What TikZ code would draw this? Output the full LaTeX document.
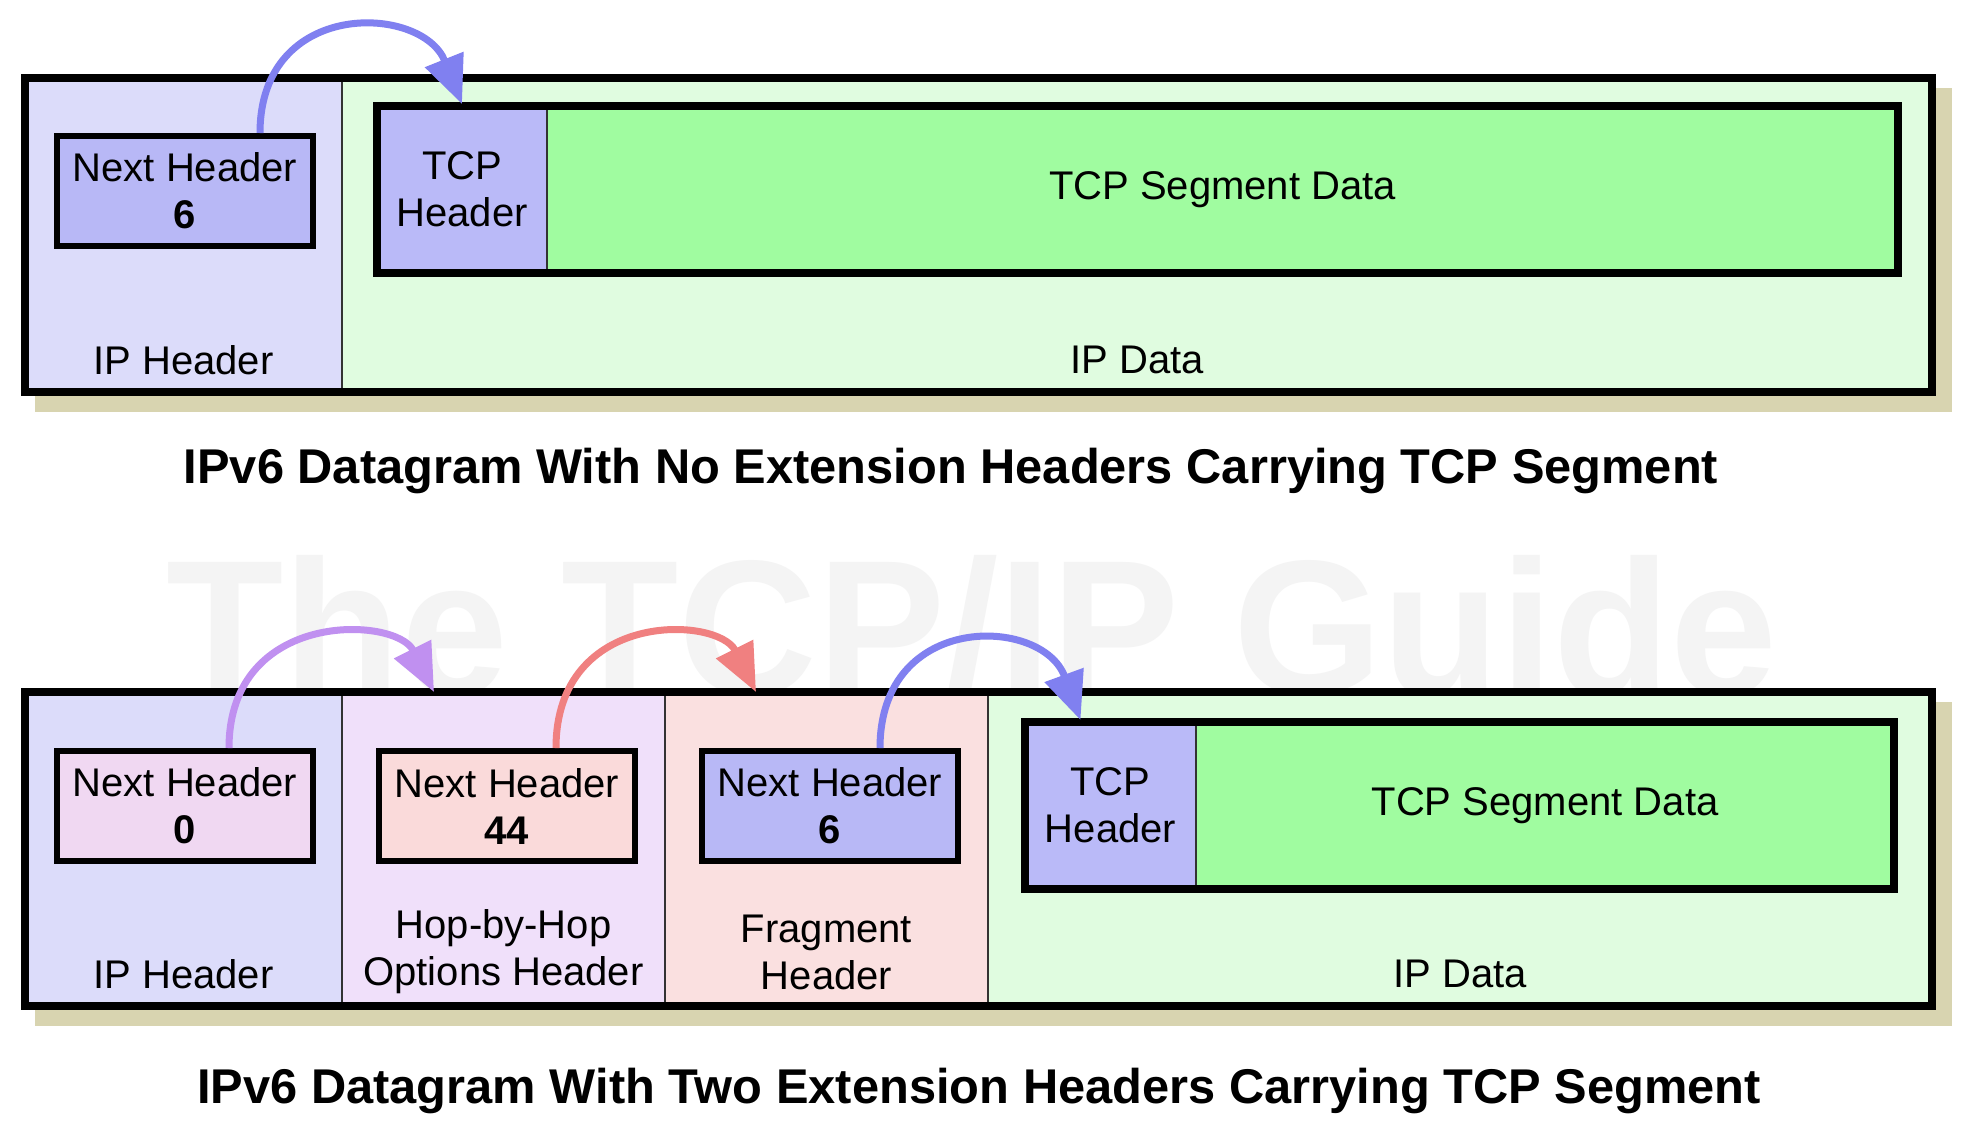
\documentclass[tikz,border=0pt]{standalone}
\usepackage{fontspec}
\setmainfont{Liberation Sans}
\usetikzlibrary{arrows.meta,fit,backgrounds}

\definecolor{iphdr}{RGB}{220,220,250}
\definecolor{ipdata}{RGB}{224,252,224}
\definecolor{tcphdr}{RGB}{186,186,248}
\definecolor{tcpdata}{RGB}{160,252,160}
\definecolor{hbhhdr}{RGB}{240,224,250}
\definecolor{fraghdr}{RGB}{250,224,224}
\definecolor{nhzero}{RGB}{240,216,242}
\definecolor{nhfour}{RGB}{250,218,218}
\definecolor{nhsix}{RGB}{184,184,246}
\definecolor{arrblue}{RGB}{128,128,240}
\definecolor{arrpurple}{RGB}{192,144,240}
\definecolor{arrsalmon}{RGB}{240,128,128}
\definecolor{shadowc}{RGB}{216,212,176}
\definecolor{wmarkc}{RGB}{244,244,244}

\begin{document}
\begin{tikzpicture}[x=0.5pt,y=-0.5pt,
    txt/.style={font=\fontsize{20}{23.5}\selectfont,align=center},
    region/.style={draw=black!80,line width=0.8pt,anchor=north west,minimum height=157pt,inner sep=0pt,outer sep=0pt},
    frame/.style={draw=black,line width=4pt,inner sep=0pt},
    nextbox/.style={txt,draw=black,line width=3pt,anchor=north west,minimum width=128pt,minimum height=55pt,inner sep=0pt},
    segpart/.style={txt,draw=black!80,line width=0.8pt,anchor=north west,minimum height=83.5pt,inner sep=0pt,outer sep=0pt},
    segframe/.style={draw=black,line width=4pt,inner sep=0pt},
    caption/.style={font=\fontsize{24.4}{28}\selectfont\bfseries},
    hop/.style={line width=3.5pt,-{Triangle[length=24pt,width=20pt]}}
]
    \useasboundingbox (0,0) rectangle (1975,1125);

    % Wasserzeichen
    \node[font=\fontsize{96}{100}\selectfont\bfseries,text=wmarkc,anchor=base] (wmark) at (972,694) {The TCP/IP Guide};

    % Datagramm ohne Erweiterungsheader
    \node[region,fill=iphdr,minimum width=158.5pt] (iph1) at (25,78) {};
    \node[region,fill=ipdata,minimum width=795pt] (ipd1) at (iph1.north east) {};
    \node[frame,fit=(iph1)(ipd1)] (dgram1) {};
    \node[txt] (iph1lbl) at ([yshift=16pt]iph1.south) {IP Header};
    \node[txt] (ipd1lbl) at ([yshift=16pt]ipd1.south) {IP Data};

    \node[nextbox,fill=nhsix] (nh6a) at (54,133) {Next Header\\\textbf{6}};
    \node[segpart,fill=tcphdr,minimum width=85pt] (tcph1) at (377,106) {TCP\\Header};
    \node[segpart,fill=tcpdata,minimum width=675.5pt] (tcpd1) at (tcph1.north east) {TCP Segment Data};
    \node[segframe,fit=(tcph1)(tcpd1)] (seg1) {};

    \draw[hop,arrblue] ([xshift=37.5pt]nh6a.north) .. controls +(0,-135) and +(-40,-100) .. ([yshift=1pt]tcph1.north);

    \node[caption] (cap1) at (951,471) {IPv6 Datagram With No Extension Headers Carrying TCP Segment};

    % Datagramm mit zwei Erweiterungsheadern
    \node[region,fill=iphdr,minimum width=158.5pt] (iph2) at (25,692) {};
    \node[region,fill=hbhhdr,minimum width=161.5pt] (hbh) at (iph2.north east) {};
    \node[region,fill=fraghdr,minimum width=161.5pt] (frag) at (hbh.north east) {};
    \node[region,fill=ipdata,minimum width=472pt] (ipd2) at (frag.north east) {};
    \node[frame,fit=(iph2)(ipd2)] (dgram2) {};
    \node[txt] (iph2lbl) at ([yshift=16pt]iph2.south) {IP Header};
    \node[txt] (hbhlbl) at ([yshift=27pt]hbh.south) {Hop-by-Hop\\Options Header};
    \node[txt] (fraglbl) at ([yshift=27pt]frag.south) {Fragment\\Header};
    \node[txt] (ipd2lbl) at ([yshift=16pt]ipd2.south) {IP Data};

    \node[nextbox,fill=nhzero] (nh0) at (54,748) {Next Header\\\textbf{0}};
    \node[nextbox,fill=nhfour] (nh44) at (376,748) {Next Header\\\textbf{44}};
    \node[nextbox,fill=nhsix] (nh6b) at (699,748) {Next Header\\\textbf{6}};
    \node[segpart,fill=tcphdr,minimum width=85.5pt] (tcph2) at (1025,722) {TCP\\Header};
    \node[segpart,fill=tcpdata,minimum width=349pt] (tcpd2) at (tcph2.north east) {TCP Segment Data};
    \node[segframe,fit=(tcph2)(tcpd2)] (seg2) {};

    \draw[hop,arrpurple] ([xshift=22pt]nh0.north) .. controls +(0,-139) and +(-38,-76) .. ([xshift=46pt]hbh.north west);
    \draw[hop,arrsalmon] ([xshift=24.5pt]nh44.north) .. controls +(0,-139) and +(-38,-76) .. ([xshift=45.5pt]frag.north west);
    \draw[hop,arrblue] ([xshift=25pt]nh6b.north) .. controls +(0,-137) and +(-38,-104) .. ([xshift=-15pt,yshift=1pt]tcph2.north);

    \node[caption] (cap2) at (979,1091) {IPv6 Datagram With Two Extension Headers Carrying TCP Segment};

    % Schatten
    \begin{scope}[on background layer]
        \fill[white] (0,0) rectangle (1975,1125);
        \fill[shadowc] ([shift={(7pt,-7pt)}]dgram1.north west) rectangle ([shift={(8pt,-8pt)}]dgram1.south east);
        \fill[shadowc] ([shift={(7pt,-7pt)}]dgram2.north west) rectangle ([shift={(8pt,-8pt)}]dgram2.south east);
    \end{scope}

\end{tikzpicture}
\end{document}
